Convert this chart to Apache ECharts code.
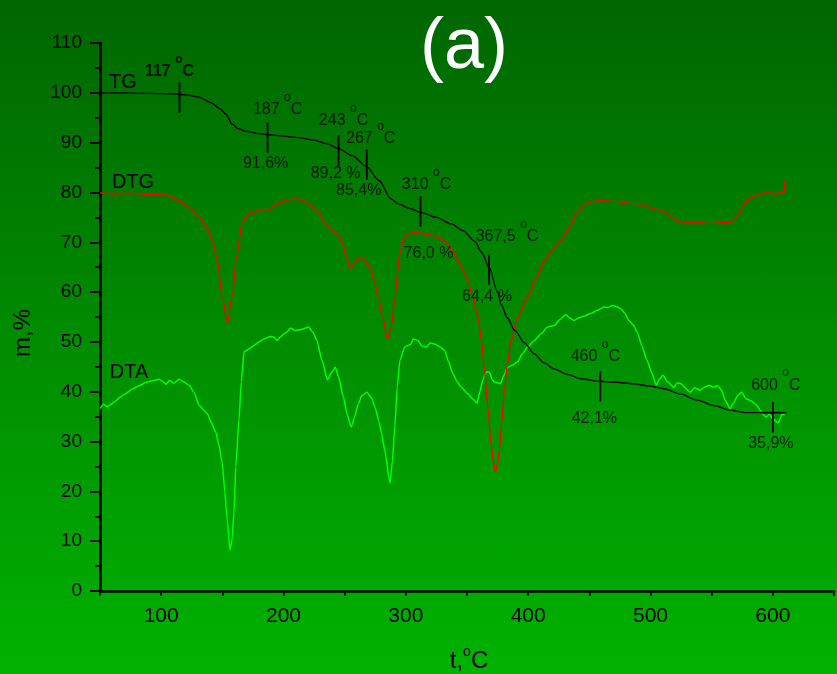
<!DOCTYPE html>
<html><head><meta charset="utf-8">
<script src="https://cdn.jsdelivr.net/npm/echarts@6/dist/echarts.min.js"></script>
<style>html,body{margin:0;padding:0;}#c{width:837px;height:674px;background:linear-gradient(to bottom,#006600,#00b200);}</style>
</head><body><div id="c"></div><script>
// ---- data ----
const tgData = [[50,100],[70,100],[90,99.9],[110,99.8],[120,99.6],[130,99.2],[141,98.0],[148,96.8],[153,95.7],[158,93.7],[163,92.8],[169,92.3],[180,91.8],[187,91.6],[200,91.3],[212,91.0],[225,90.5],[235,89.8],[245,88.8],[256,87.4],[268,85.2],[278,82.4],[288,78.7],[294,77.7],[303,76.8],[312,76.0],[325,75.0],[337,73.7],[347,72.3],[356,70.3],[362,68.0],[368,65.0],[375,60.0],[378,57.5],[383,54.8],[389,52.3],[397,49.8],[405,47.6],[413,45.8],[421,44.6],[432,43.5],[443,42.6],[458,42.1],[472,41.9],[486,41.6],[500,41.1],[511,40.6],[525,39.5],[538,38.3],[552,37.2],[565,36.3],[578,35.8],[590,35.8],[600,35.8],[610,35.8]];
const dtgData = [[50,79.9],[60,79.8],[62,79.4],[65,79.8],[80,79.8],[90,79.6],[104,79.5],[115,78.4],[123,77.0],[131,75.0],[138,72.7],[142,70.3],[146,66.3],[150,59.0],[154,53.8],[158,59.0],[162,67.7],[166,73.7],[170,75.3],[174,76.0],[182,76.5],[188,76.5],[192,77.2],[197.5,78.0],[205,78.6],[212,78.7],[216,78.4],[220.5,77.7],[228.7,76.0],[234,73.7],[240,72.3],[245,71.3],[248,70.0],[251,67.5],[254.5,64.7],[258,65.8],[262,67.0],[265,66.8],[270.7,65.0],[274,62.5],[277.5,59.0],[281,55],[285,50.6],[288,53],[291,58.3],[293,63.5],[295,67.7],[298,70.5],[302,71.7],[306,72.0],[310,72.0],[316,71.6],[323.6,71.3],[328,70.8],[333,70.0],[338,68.3],[342.6,66.3],[347,64.3],[350.7,62.3],[355,58.8],[359,55.0],[362,50],[364.3,44.3],[367,37],[369.7,29.6],[371.5,26],[373.3,23.9],[375,25.5],[376.5,28.3],[378.5,34],[380.6,40.3],[383,45.5],[386,50.3],[391.4,55.0],[399.6,59.0],[406,62.5],[413,66.3],[420,68.5],[426.7,70.3],[433,72.7],[440,76.0],[448,77.8],[455,78.3],[462,78.4],[468,78.2],[473,78.2],[478,78.0],[484,77.8],[492,77.7],[500,76.9],[505,76.6],[511,76.2],[517,75.0],[524,74.1],[531,74.0],[538,73.9],[544,74.1],[549,74.2],[557,74.0],[566,74.0],[569,74.7],[572,75.7],[575,77.0],[579,78.4],[583,79.2],[587,79.4],[592,79.8],[597.5,80.2],[601.6,79.6],[605,79.9],[608.4,80.2],[609,79.8],[610,82.4]];
const dtaData = [[50,36.6],[53,37.5],[56,37.0],[58,37.3],[62,38.0],[66.3,38.9],[70,39.5],[76.8,40.6],[82,41.2],[87.7,41.9],[93,42.2],[98.5,42.5],[101,42.1],[104,41.5],[107,42.3],[110,41.7],[114.8,42.5],[118,42.0],[122.9,41.3],[127,39.8],[131,37.3],[134,36.5],[137.8,35.6],[141,33.8],[144.6,31.9],[147,29.5],[150,25.6],[152,20],[154,14.2],[156.3,8.2],[158,10.5],[159.5,15.6],[161,25],[163.6,34.3],[165.5,42],[167.7,48.0],[171,48.5],[174.4,49.0],[177,49.5],[179.9,50.0],[184,50.6],[189.4,51.1],[192,51.0],[194.8,50.3],[197.5,51.0],[200.2,51.6],[203,52.0],[205.7,52.8],[209,52.3],[212.4,52.4],[216,52.6],[220.5,53.0],[224,52.0],[227.3,50.3],[231.4,46.3],[236,42.4],[239,43.8],[242.3,44.9],[245,43],[249,38.9],[252,35.5],[255.3,32.9],[258,34.8],[261.2,37.6],[264,39.2],[268,39.9],[272,38.8],[274.8,36.9],[278,34],[280.2,31.6],[283,28],[287,21.6],[289,26],[291,33],[293,41],[295.2,46.3],[299.2,49.0],[304,49.5],[306,50.6],[310,50.3],[313,49.2],[316.8,49.0],[320,49.8],[323.6,49.6],[328,49.0],[331.8,48.3],[335,46],[338.5,43.6],[342,42],[345.3,40.9],[350.7,39.6],[355,38.5],[358.3,37.7],[360.5,40],[362.9,42.3],[366,44],[368.4,43.9],[370.5,42.5],[372.5,41.9],[375,41.8],[377.3,41.6],[380,43.2],[383.3,44.9],[387,45.3],[391.4,46.0],[395,47.5],[399.6,49.0],[405,50.3],[410.4,51.6],[415.8,53.0],[421.3,53.3],[426,54.5],[430.7,55.5],[434,54.8],[437.5,54.3],[441,54.8],[446,55.2],[451,55.7],[456,56.3],[462,57.0],[465,56.9],[468.7,57.3],[472,57.1],[475.5,56.7],[479,55.8],[482.3,54.3],[486,53.4],[489.1,52.0],[493,49.2],[497.2,46.3],[501,43.8],[504.8,41.3],[507,42.5],[510.2,43.3],[514,42.0],[518.9,40.9],[522,41.8],[525,41.6],[528,40.8],[532.4,39.9],[536,40.8],[540.6,40.3],[544,40.9],[548,41.3],[551.5,40.9],[555,41.2],[558.2,40.3],[561,38.3],[565,36.6],[568,37.8],[571,39.2],[574.5,39.9],[578,38.6],[582,38.2],[586.7,37.3],[590,36.2],[592,35.4],[594.8,34.9],[597,35.5],[600,34.6],[602,34.2],[604.3,33.7],[606,34.6],[607.5,35.5],[609.7,35.3]];
const markTemps = [115,187,245,268,312,368,459,600];
const markValues = [99.0,91.0,88.4,85.6,76.2,64.5,41.1,34.9];
const tempLabels = ['117','187','243','267','310','367,5','460','600'];
const pctLabels = ['','91,6%','89,2 %','85,4%','76,0 %','64,4 %','42,1%','35,9%'];
const xTickLabels = [100,200,300,400,500,600];
const seriesNames = ['TG','DTG','DTA'];

// ---- styles (pixel offsets of annotation labels) ----
const tempOffsets = [[-10,-26],[10,-28],[5,-30],[4,-26],[6,-27],[18,-33],[-5,-30],[3,-32]];
const pctOffsets = [[0,0],[-2,26],[-3,23],[-8,26],[8,42],[-2,27],[-6,32],[-2,26]];
const FONT = '"Liberation Sans", Arial, sans-serif';
const ANN = 16;

const chart = echarts.init(document.getElementById('c'));

const supRich = (size, bold) => ({
  n: {fontSize: size, fontFamily: FONT, color: '#000', fontWeight: bold ? 'bold' : 'normal', padding: [10,0,0,0], verticalAlign: 'bottom'},
  s: {fontSize: 12, fontFamily: FONT, color: '#000', fontWeight: bold ? 'bold' : 'normal', verticalAlign: 'top'}
});

const tickTempItems = markTemps.map((t, i) => ({
  value: [t, markValues[i]],
  label: {
    show: true, position: 'inside',
    offset: [tempOffsets[i][0], tempOffsets[i][1] - 5],
    formatter: '{n|' + tempLabels[i] + ' }{s|o}{n|C}',
    rich: supRich(ANN, i === 0)
  }
}));
const tickPctItems = markTemps.map((t, i) => ({
  value: [t, markValues[i]],
  label: {
    show: pctLabels[i] !== '', position: 'inside',
    offset: pctOffsets[i],
    formatter: pctLabels[i],
    fontSize: ANN, fontFamily: FONT, color: '#000'
  }
}));

chart.setOption({
  animation: false,
  backgroundColor: 'transparent',
  grid: {left: 100, right: 0, top: 43, bottom: 83, containLabel: false},
  xAxis: {
    type: 'value', min: 50, max: 650, interval: 50,
    axisLine: {show: true, lineStyle: {color: '#000', width: 2.5}},
    axisTick: {show: true, length: 5, lineStyle: {color: '#000', width: 1.5}},
    axisLabel: {
      fontSize: 21, fontFamily: FONT, color: '#000', margin: 15,
      formatter: v => xTickLabels.indexOf(v) >= 0 ? String(v) : ''
    },
    splitLine: {show: false}
  },
  yAxis: {
    type: 'value', min: 0, max: 110, interval: 10,
    axisLine: {show: true, lineStyle: {color: '#000', width: 2.5}},
    axisTick: {show: true, length: 10, lineStyle: {color: '#000', width: 2}},
    minorTick: {show: true, splitNumber: 2, length: 5, lineStyle: {color: '#000', width: 2}},
    axisLabel: {fontSize: 19, fontFamily: FONT, color: '#000', margin: 18},
    splitLine: {show: false}
  },
  graphic: [
    {type: 'text', x: 464, y: 48, style: {text: '(a)', fill: '#fff', fontSize: 72, fontFamily: FONT, align: 'center', verticalAlign: 'middle', textAlign: 'center', textVerticalAlign: 'middle'}},
    {type: 'text', x: 123, y: 82.5, style: {text: seriesNames[0], fill: '#000', fontSize: 20, fontFamily: FONT, align: 'center', verticalAlign: 'middle', textAlign: 'center', textVerticalAlign: 'middle'}},
    {type: 'text', x: 133, y: 182.5, style: {text: seriesNames[1], fill: '#000', fontSize: 20, fontFamily: FONT, align: 'center', verticalAlign: 'middle', textAlign: 'center', textVerticalAlign: 'middle'}},
    {type: 'text', x: 129, y: 372.5, style: {text: seriesNames[2], fill: '#000', fontSize: 20, fontFamily: FONT, align: 'center', verticalAlign: 'middle', textAlign: 'center', textVerticalAlign: 'middle'}},
    {type: 'text', x: 23, y: 333, rotation: Math.PI / 2, style: {text: 'm,%', fill: '#000', fontSize: 24, fontFamily: FONT, align: 'center', verticalAlign: 'middle', textAlign: 'center', textVerticalAlign: 'middle'}},
    {type: 'text', x: 469, y: 659, style: {text: '{n|t,}{s|o}{n|C}', fill: '#000', align: 'center', verticalAlign: 'middle', textAlign: 'center', textVerticalAlign: 'middle',
      rich: {
        n: {fontSize: 24, fontFamily: FONT, fill: '#000', padding: [4,0,0,0], verticalAlign: 'bottom'},
        s: {fontSize: 14, fontFamily: FONT, fill: '#000', verticalAlign: 'top'}
      }}}
  ],
  series: [
    {name: 'DTA', type: 'line', data: dtaData, showSymbol: false, symbol: 'none', smooth: 0.2, smoothMonotone: 'x',
      lineStyle: {color: '#00ff00', width: 1.5}, z: 2},
    {name: 'DTG', type: 'line', data: dtgData, showSymbol: false, symbol: 'none', smooth: 0.3, smoothMonotone: 'x',
      lineStyle: {color: '#ff0000', width: 1.4}, z: 3},
    {name: 'TG', type: 'line', data: tgData, showSymbol: false, symbol: 'none', smooth: 0.3, smoothMonotone: 'x',
      lineStyle: {color: '#000', width: 1.3}, z: 4},
    {name: 'ticks', type: 'scatter', data: tickTempItems, symbol: 'rect', symbolSize: [1.6, 30],
      itemStyle: {color: '#000'}, z: 5, silent: true},
    {name: 'pct', type: 'scatter', data: tickPctItems, symbol: 'rect', symbolSize: [1.6, 30],
      itemStyle: {color: '#000'}, z: 5, silent: true},
    {name: 'cross', type: 'scatter', data: [[markTemps[7], markValues[7]]], symbol: 'rect', symbolSize: [26, 1.6],
      symbolOffset: [1, -4.5], itemStyle: {color: '#000'}, z: 5, silent: true}
  ]
});
</script></body></html>
